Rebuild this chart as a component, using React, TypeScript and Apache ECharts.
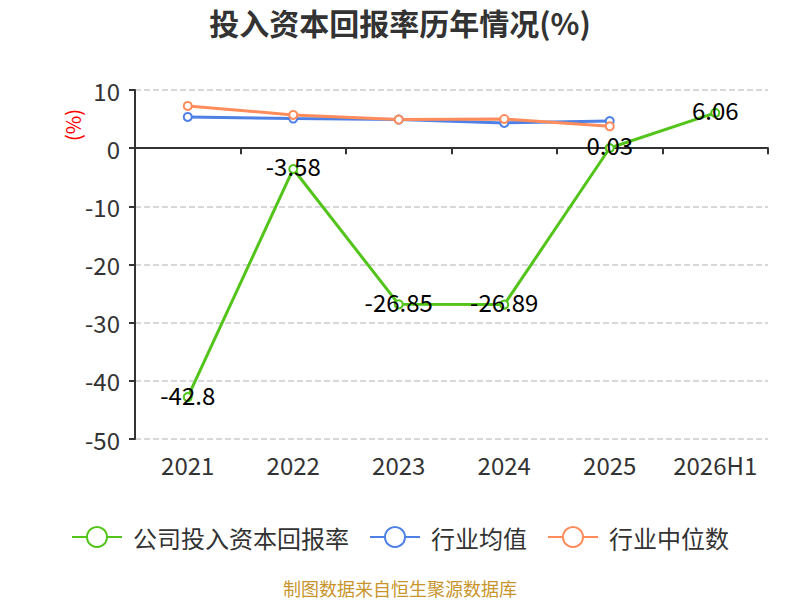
import React, { useEffect, useRef } from "react";
import * as echarts from "echarts";

const categories = ["2021", "2022", "2023", "2024", "2025", "2026H1"];
const companyValues = [-42.8, -3.58, -26.85, -26.89, 0.03, 6.06];
const industryAvg = [5.37, 5.09, 4.92, 4.34, 4.65, null];
const industryMedian = [7.26, 5.71, 4.92, 5.02, 3.76, null];
const yTicks = { min: -50, max: 10, interval: 10 };

const FONT = "'Noto Sans CJK SC', 'Noto Sans', sans-serif";

export default function App() {
  const ref = useRef<HTMLDivElement>(null);
  useEffect(() => {
    if (!ref.current) return;
    const chart = echarts.init(ref.current, null, { renderer: "svg" });
    chart.setOption({
      animation: false,
      textStyle: { fontFamily: FONT },
      title: {
        text: "投入资本回报率历年情况(%)",
        left: "center",
        top: 2,
        textStyle: { fontSize: 30, fontWeight: "bold", color: "#333", fontFamily: FONT },
      },
      grid: { left: 135, right: 32, top: 90, bottom: 161, containLabel: false },
      legend: {
        top: 520,
        left: "center",
        itemWidth: 50,
        itemHeight: 25,
        itemGap: 20,
        textStyle: { fontSize: 24, color: "#333", fontFamily: FONT, padding: [0, 0, 0, 6] },
        data: ["公司投入资本回报率", "行业均值", "行业中位数"],
      },
      graphic: [
        {
          type: "text",
          x: 72,
          y: 125,
          rotation: Math.PI / 2,
          style: {
            text: "(%)",
            fill: "#ff0000",
            fontSize: 20,
            fontFamily: FONT,
            textAlign: "center",
            textVerticalAlign: "middle",
          },
        },
        {
          type: "text",
          left: "center",
          top: 579,
          style: {
            text: "制图数据来自恒生聚源数据库",
            fill: "#c8952c",
            fontSize: 18,
            fontFamily: FONT,
          },
        },
      ],
      xAxis: [
        {
          type: "category",
          data: categories,
          boundaryGap: true,
          axisLine: { onZero: true, lineStyle: { color: "#333", width: 2 } },
          axisTick: { show: true, length: 6, lineStyle: { color: "#333", width: 2 } },
          axisLabel: { show: false },
        },
        {
          type: "category",
          data: categories,
          position: "bottom",
          boundaryGap: true,
          axisLine: { show: false },
          axisTick: { show: false },
          axisLabel: { fontSize: 24, color: "#333", margin: 13, interval: 0, fontFamily: FONT },
        },
      ],
      yAxis: {
        type: "value",
        min: yTicks.min,
        max: yTicks.max,
        interval: yTicks.interval,
        axisLine: { show: true, lineStyle: { color: "#333", width: 2 } },
        axisTick: { show: true, length: 6, lineStyle: { color: "#333", width: 2 } },
        axisLabel: { fontSize: 24, color: "#333", margin: 15, fontFamily: FONT },
        splitLine: { show: true, lineStyle: { type: "dashed", color: "#ccc", width: 1.5 } },
      },
      series: [
        {
          name: "公司投入资本回报率",
          type: "line",
          data: companyValues,
          color: "#52c41a",
          symbol: "emptyCircle",
          symbolSize: 8,
          lineStyle: { width: 3 },
          z: 3,
          label: {
            show: true,
            position: "inside",
            offset: [0, -3],
            fontSize: 24,
            color: "#000",
            fontFamily: FONT,
          },
        },
        {
          name: "行业均值",
          type: "line",
          data: industryAvg,
          color: "#4e80e6",
          symbol: "emptyCircle",
          symbolSize: 8,
          lineStyle: { width: 3 },
          z: 2,
        },
        {
          name: "行业中位数",
          type: "line",
          data: industryMedian,
          color: "#ff8c5a",
          symbol: "emptyCircle",
          symbolSize: 8,
          lineStyle: { width: 3 },
          z: 2,
        },
      ],
    });
    return () => chart.dispose();
  }, []);
  return (
    <div
      ref={ref}
      style={{ position: "fixed", left: 0, top: 0, width: 800, height: 600, background: "#fff" }}
    />
  );
}
